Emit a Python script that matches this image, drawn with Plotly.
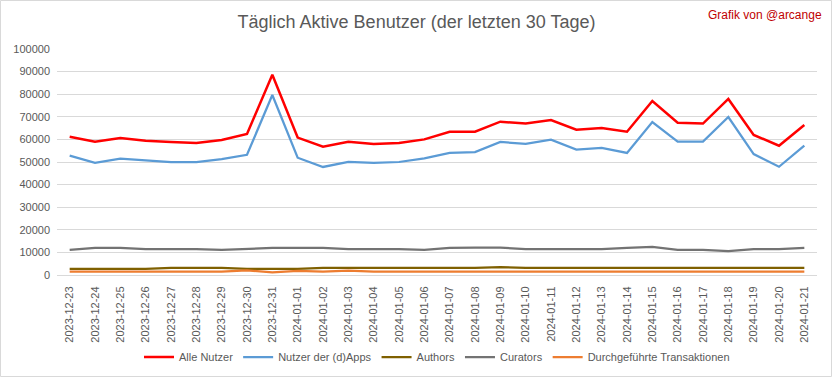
import plotly.graph_objects as go

dates = ["2023-12-23","2023-12-24","2023-12-25","2023-12-26","2023-12-27","2023-12-28","2023-12-29",
         "2023-12-30","2023-12-31","2024-01-01","2024-01-02","2024-01-03","2024-01-04","2024-01-05",
         "2024-01-06","2024-01-07","2024-01-08","2024-01-09","2024-01-10","2024-01-11","2024-01-12",
         "2024-01-13","2024-01-14","2024-01-15","2024-01-16","2024-01-17","2024-01-18","2024-01-19",
         "2024-01-20","2024-01-21"]

alle_nutzer = [61200, 59000, 60600, 59400, 58900, 58400, 59700, 62400, 88600, 60800,
               56800, 59000, 58000, 58400, 60000, 63400, 63400, 67850, 67000, 68600,
               64300, 65000, 63400, 77000, 67400, 67000, 77900, 62000, 57200, 66400]

dapps = [52800, 49600, 51500, 50600, 50000, 50000, 51300, 53200, 79650, 51900,
         47800, 50000, 49600, 50000, 51600, 54000, 54400, 58900, 58000, 59900,
         55500, 56200, 54000, 67700, 59000, 59000, 69900, 53500, 47900, 57200]

authors = [2700, 2700, 2700, 2700, 3100, 3100, 3100, 2700, 2700, 2700,
           3100, 3100, 3100, 3100, 3100, 3100, 3100, 3500, 3100, 3100,
           3100, 3100, 3100, 3100, 3100, 3100, 3100, 3100, 3100, 3100]

curators = [11100, 11950, 11950, 11500, 11500, 11500, 11100, 11500, 11950, 11950,
            11950, 11500, 11500, 11500, 11100, 11950, 12100, 12100, 11500, 11500,
            11500, 11500, 11950, 12400, 11100, 11100, 10600, 11500, 11500, 11950]

transaktionen = [1500, 1500, 1500, 1500, 1500, 1500, 1500, 2000, 1200, 1800,
                 1500, 1900, 1500, 1500, 1500, 1500, 1500, 1500, 1500, 1500,
                 1500, 1500, 1500, 1500, 1500, 1500, 1500, 1500, 1800, 1500]

y_ticks = [0, 10000, 20000, 30000, 40000, 50000, 60000, 70000, 80000, 90000, 100000]

series = [
    ("Alle Nutzer", alle_nutzer, "#FF0000", 2.5),
    ("Nutzer der (d)Apps", dapps, "#5B9BD5", 2.25),
    ("Authors", authors, "#7F6000", 2.25),
    ("Curators", curators, "#737373", 2.25),
    ("Durchgeführte Transaktionen", transaktionen, "#ED7D31", 2.25),
]

FONT = "Liberation Sans, Arial, sans-serif"

fig = go.Figure()
for name, vals, color, w in series:
    fig.add_trace(go.Scatter(x=dates, y=vals, name=name, mode="lines",
                             line=dict(color=color, width=w)))

W, H = 833, 379
L, R, T, B = 57, 16, 49, 104
pw, ph = W - L - R, H - T - B

def px_x(p):
    return (p - L) / pw

def px_y(p):
    return (H - B - p) / ph

fig.update_layout(
    width=W, height=H,
    margin=dict(l=L, r=R, t=T, b=B, autoexpand=False),
    paper_bgcolor="white", plot_bgcolor="white",
    font=dict(family=FONT, color="#595959", size=11),
    title=dict(text="Täglich Aktive Benutzer (der letzten 30 Tage)",
               x=0.5, xanchor="center", y=1 - 22 / H, yanchor="middle",
               font=dict(family=FONT, size=18, color="#595959")),
    showlegend=True,
    legend=dict(orientation="h", x=0.5, xanchor="center", y=px_y(357), yanchor="middle",
                font=dict(family=FONT, size=11, color="#595959"),
                itemwidth=30, bgcolor="rgba(0,0,0,0)"),
    xaxis=dict(type="category", range=[-0.5, len(dates) - 0.5], tickangle=-90,
               showgrid=False, showline=True, automargin=False,
               linecolor="#D9D9D9", linewidth=1, ticks="", ticklabelstandoff=6,
               tickfont=dict(family=FONT, size=11, color="#595959")),
    yaxis=dict(range=[0, 100000], tickvals=y_ticks, tickformat="d", automargin=False,
               showgrid=True, gridcolor="#D9D9D9", gridwidth=1, zeroline=False,
               showline=False, ticks="", ticklabelstandoff=6,
               tickfont=dict(family=FONT, size=11, color="#595959")),
    annotations=[dict(text="Grafik von @arcange", xref="paper", yref="paper",
                      x=px_x(824), y=px_y(15), xanchor="right", yanchor="middle",
                      showarrow=False,
                      font=dict(family=FONT, size=12, color="#C00000"))],
    shapes=[dict(type="rect", xref="paper", yref="paper",
                 x0=px_x(0.5), x1=px_x(W - 1.5), y0=px_y(H - 2.5), y1=px_y(0.5),
                 line=dict(color="#D9D9D9", width=1), fillcolor="rgba(0,0,0,0)",
                 layer="below")],
)

fig.write_html("out.html",
               config={"displayModeBar": False},
               post_script="document.body.style.margin='0';document.body.style.overflow='hidden';")
